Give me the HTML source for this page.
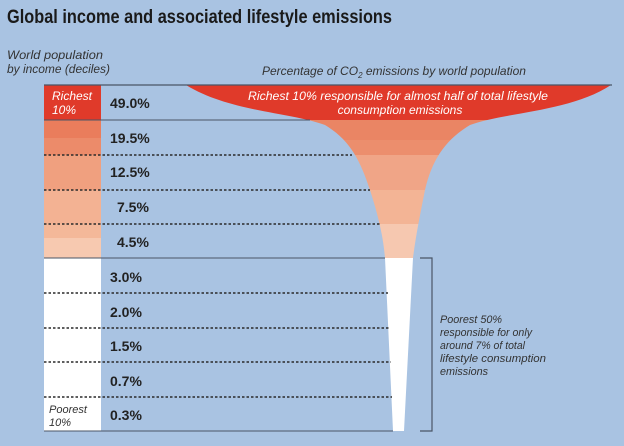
<!DOCTYPE html>
<html><head><meta charset="utf-8"><style>
html,body{margin:0;padding:0;background:#a9c3e2;}
svg{display:block;}
text{font-family:"Liberation Sans",sans-serif;}
</style></head><body>
<svg width="624" height="446" viewBox="0 0 624 446" xmlns="http://www.w3.org/2000/svg">
<rect width="624" height="446" fill="#a9c3e2"/>
<text x="7" y="23" font-size="19" font-weight="bold" fill="#1a1a1a" textLength="385" lengthAdjust="spacingAndGlyphs">Global income and associated lifestyle emissions</text>
<text x="7" y="59" font-size="12" font-style="italic" fill="#333" textLength="96" lengthAdjust="spacingAndGlyphs">World population</text>
<text x="7" y="73" font-size="12" font-style="italic" fill="#333" textLength="103" lengthAdjust="spacingAndGlyphs">by income (deciles)</text>
<text x="262" y="75" font-size="12" font-style="italic" fill="#333">Percentage of  CO<tspan font-size="8" dy="3">2</tspan><tspan dy="-3"> emissions by world population</tspan></text>
<defs>
<clipPath id="f"><path d="M186,85 C230,112 290,112 325,125 C350,140 360,160 370,190 C378,215 383,235 385,258 L393,431 L404,431 L413,258 C416,235 420,215 425,190 C432,160 445,140 470,125 C505,112 570,112 611,85 Z"/></clipPath>
</defs>
<rect x="44" y="85" width="57" height="35" fill="#e03a2a"/>
<rect x="44" y="120" width="57" height="18" fill="#ea7d5c"/>
<rect x="44" y="138" width="57" height="17" fill="#ec8b6a"/>
<rect x="44" y="155" width="57" height="35" fill="#f0a07f"/>
<rect x="44" y="190" width="57" height="34" fill="#f3b293"/>
<rect x="44" y="224" width="57" height="14" fill="#f4b899"/>
<rect x="44" y="238" width="57" height="20" fill="#f7c9b0"/>
<rect x="44" y="258" width="57" height="173" fill="#ffffff"/>
<g clip-path="url(#f)">
<rect x="180" y="85" width="440" height="35" fill="#e03a2a"/>
<rect x="180" y="120" width="440" height="20" fill="#ea8564"/>
<rect x="180" y="140" width="440" height="15" fill="#ec8e6d"/>
<rect x="180" y="155" width="440" height="35" fill="#f0a587"/>
<rect x="180" y="190" width="440" height="34" fill="#f3b495"/>
<rect x="180" y="224" width="440" height="34" fill="#f6c8b0"/>
<rect x="180" y="258" width="440" height="180" fill="#ffffff"/>
</g>
<text x="398" y="100" font-size="12" font-style="italic" fill="#fff" text-anchor="middle" textLength="300" lengthAdjust="spacingAndGlyphs">Richest 10% responsible for almost half of total lifestyle</text>
<text x="400" y="114" font-size="12" font-style="italic" fill="#fff" text-anchor="middle">consumption emissions</text>
<line x1="44" y1="85" x2="612" y2="85" stroke="#4a5566" stroke-width="1.2"/>
<line x1="44" y1="120" x2="310" y2="120" stroke="#4a5566" stroke-width="1"/>
<g stroke="#2a2a2a" stroke-width="1.4" stroke-dasharray="2.5,2">
<line x1="44" y1="155" x2="352" y2="155"/>
<line x1="44" y1="190" x2="370" y2="190"/>
<line x1="44" y1="224" x2="380" y2="224"/>
<line x1="44" y1="293" x2="388" y2="293"/>
<line x1="44" y1="328" x2="390" y2="328"/>
<line x1="44" y1="362" x2="391" y2="362"/>
<line x1="44" y1="397" x2="392" y2="397"/>
</g>
<line x1="44" y1="258" x2="385" y2="258" stroke="#4a5566" stroke-width="1"/>
<line x1="44" y1="431" x2="393" y2="431" stroke="#4a5566" stroke-width="1"/>
<path d="M420,258 H432 V431 H420" fill="none" stroke="#4a5566" stroke-width="1.2"/>
<text x="52" y="100" font-size="12" font-style="italic" fill="#fff">Richest</text>
<text x="52" y="114" font-size="12" font-style="italic" fill="#fff">10%</text>
<text x="49" y="413" font-size="11" font-style="italic" fill="#333">Poorest</text>
<text x="49" y="426" font-size="11" font-style="italic" fill="#333">10%</text>
<g font-size="14" font-weight="bold" fill="#222">
<text x="110" y="108">49.0%</text>
<text x="110" y="143">19.5%</text>
<text x="110" y="177">12.5%</text>
<text x="117" y="212">7.5%</text>
<text x="117" y="247">4.5%</text>
<text x="110" y="282">3.0%</text>
<text x="110" y="317">2.0%</text>
<text x="110" y="351">1.5%</text>
<text x="110" y="386">0.7%</text>
<text x="110" y="420">0.3%</text>
</g>
<g font-size="11" font-style="italic" fill="#333">
<text x="440" y="323" textLength="62" lengthAdjust="spacingAndGlyphs">Poorest 50%</text>
<text x="440" y="336" textLength="92" lengthAdjust="spacingAndGlyphs">responsible for only</text>
<text x="440" y="349" textLength="85" lengthAdjust="spacingAndGlyphs">around 7% of total</text>
<text x="440" y="362" textLength="106" lengthAdjust="spacingAndGlyphs">lifestyle consumption</text>
<text x="440" y="375" textLength="48" lengthAdjust="spacingAndGlyphs">emissions</text>
</g>
</svg>
</body></html>
